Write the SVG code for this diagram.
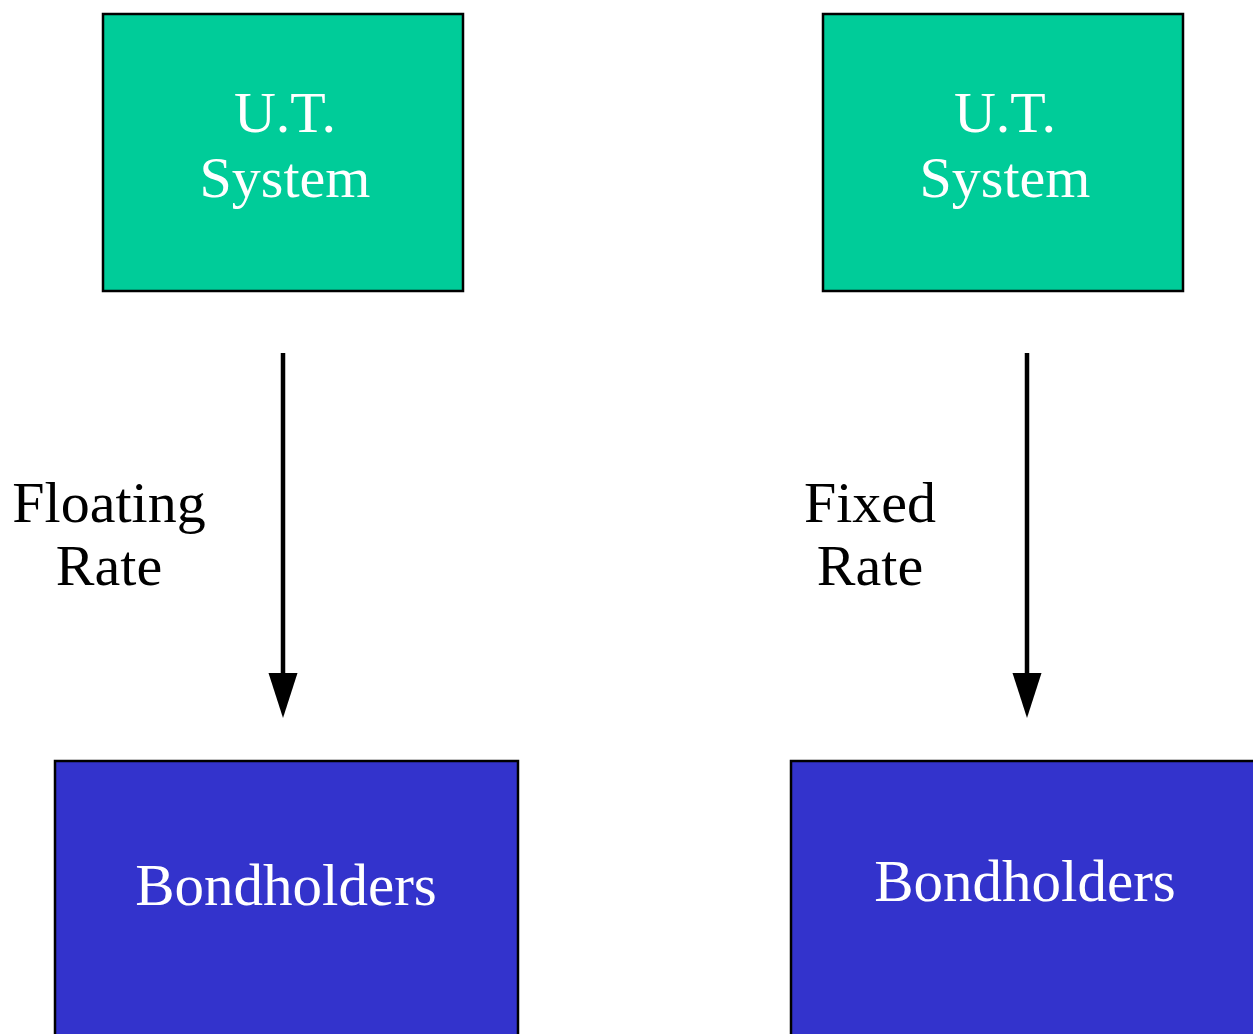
<svg xmlns="http://www.w3.org/2000/svg" width="1253" height="1034" viewBox="0 0 1253 1034">
<style>
text{font-family:"Liberation Serif","DejaVu Serif",serif;font-size:58px;text-anchor:middle}
.w{fill:#ffffff}
.k{fill:#000000}
.g{fill:#00CC99;stroke:#000;stroke-width:2.5}
.b{fill:#3333CC;stroke:#000;stroke-width:2.5}
.e{stroke:#000;stroke-width:4.5;fill:none}
</style>
<rect width="1253" height="1034" fill="#fff"/>
<g id="ut1"><rect class="g" x="103" y="14" width="360" height="277"/><text class="w" x="285" y="132">U.T.</text><text class="w" x="285" y="197">System</text></g>
<g id="ut2"><rect class="g" x="823" y="14" width="360" height="277"/><text class="w" x="1005" y="132">U.T.</text><text class="w" x="1005" y="197">System</text></g>
<g id="bh1"><rect class="b" x="55" y="761" width="463" height="300"/><text class="w" x="286" y="905" style="font-size:59px">Bondholders</text></g>
<g id="bh2"><rect class="b" x="791" y="761" width="480" height="300"/><text class="w" x="1025" y="901" style="font-size:59px">Bondholders</text></g>
<g id="connectors">
<path class="e" d="M283,353 V676"/><path d="M268.5,673 L297.5,673 L283,718 Z" fill="#000"/>
<path class="e" d="M1027,353 V676"/><path d="M1012.5,673 L1041.5,673 L1027,718 Z" fill="#000"/>
<text class="k" x="109" y="522">Floating</text><text class="k" x="109" y="585">Rate</text>
<text class="k" x="870" y="522">Fixed</text><text class="k" x="870" y="585">Rate</text>
</g>
</svg>
